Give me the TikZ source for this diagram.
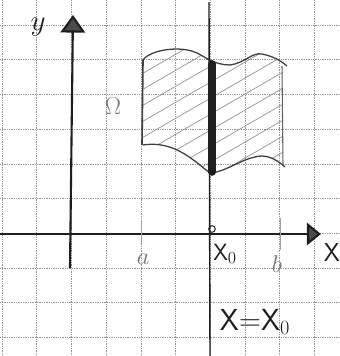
\documentclass[tikz,border=0pt]{standalone}
\definecolor{paper}{RGB}{150, 150, 150}
\definecolor{pencil}{RGB}{30, 30, 30}
\definecolor{faint}{RGB}{120, 120, 120}
\usepackage{amsmath,amssymb}
\usetikzlibrary{arrows.meta,positioning}

\begin{document}
\begin{tikzpicture}[x=0.03cm, y=-0.03cm,
    gridline/.style={paper, line width=0.5pt, densely dotted},
    axis/.style={pencil, line width=1.8pt},
    hand/.style={font=\sffamily\fontsize{22}{24}\selectfont, text=pencil, inner sep=1pt},
    pale/.style={font=\fontsize{22}{24}\selectfont, text=faint, inner sep=1pt}]
        \useasboundingbox (0,0) rectangle (340,356);
        \fill[white] (0,0) rectangle (340,356);

        % Squared paper
        \foreach \i in {0,...,9} {
          \draw[gridline] ({2+34.7*\i},0) -- ({2+34.7*\i},356);
        }
        \foreach \j in {0,...,9} {
          \draw[gridline] (0,{25+34.7*\j}) -- (340,{25+34.7*\j});
        }

        % Axes
        \coordinate (Ybot) at (70, 268);
        \coordinate (Ytop) at (73, 15);
        \coordinate (Xleft) at (0, 234);
        \coordinate (Xright) at (321, 234);
        \draw[axis, -{Triangle[length=15pt, width=21pt, fill=pencil!80]}] (Ybot) -- (Ytop);
        \draw[axis, -{Triangle[length=12pt, width=19pt, fill=pencil!80]}] (Xleft) -- (Xright);

        % Region Omega, hatched
        \begin{scope}
          \clip (143,60) .. controls (150,50) and (180,45) .. (197,53)
                .. controls (205,57) and (215,65) .. (230,65)
                .. controls (245,63) and (252,52) .. (262,54)
                .. controls (272,56) and (280,60) .. (283,66)
                -- (283,166)
                .. controls (275,158) and (265,154) .. (255,157)
                .. controls (240,160) and (225,172) .. (210,173)
                .. controls (195,162) and (175,140) .. (143,145) -- cycle;
          \foreach \k in {0,...,14} {
            \draw[faint!80, line width=0.6pt] (140,{75+16*\k}) -- (290,{75+16*\k-87});
          }
        \end{scope}
        \draw[pencil!85, line width=1.1pt]
              (143,60) .. controls (150,50) and (180,45) .. (197,53)
              .. controls (205,57) and (215,65) .. (230,65)
              .. controls (245,63) and (252,52) .. (262,54)
              .. controls (272,56) and (280,60) .. (287,66);
        \draw[pencil!85, line width=1.1pt]
              (285,167) .. controls (275,158) and (265,154) .. (255,157)
              .. controls (240,160) and (225,172) .. (210,173)
              .. controls (195,162) and (175,140) .. (143,145);
        \draw[pencil!85, line width=1.4pt] (143,60) -- (142,145);
        \draw[pencil!70, line width=0.9pt] (282,66) -- (283,165);

        % Line x = x0
        \coordinate (Ltop) at (209, 2);
        \coordinate (Lbot) at (210, 356);
        \coordinate (Btop) at (212, 64);
        \coordinate (Bbot) at (212, 172);
        \draw[pencil, line width=1.2pt] (Ltop) -- (Lbot);
        \draw[pencil, line width=6.5pt, line cap=round] (Btop) -- (Bbot);
        \node[circle, draw=pencil, line width=0.8pt, inner sep=2pt] (Xo) at (212, 229) {};

        % Ticks a and b
        \coordinate (Atop) at (141, 220);
        \coordinate (Abot) at (141, 243);
        \coordinate (Btick) at (280, 218);
        \coordinate (Btickb) at (280, 250);
        \draw[faint!70, line width=0.8pt] (Atop) -- (Abot);
        \draw[faint!70, line width=0.8pt] (Btick) -- (Btickb);

        % Labels
        \node[font=\fontsize{30}{32}\selectfont, text=pencil] (ylab) at (38, 27) {$y$};
        \node[hand] (xlab) at (332, 253) {X};
        \node[pale] (omega) at (113, 106) {$\Omega$};
        \node[pale] (alab) at (143, 259) {$a$};
        \node[pale] (blab) at (277, 264) {$b$};
        \node[hand, font=\sffamily\fontsize{20}{22}\selectfont] (x0lab) at (225, 254) {X$_0$};
        \node[hand, font=\sffamily\fontsize{26}{28}\selectfont] (eqlab) at (255, 322) {X=X$_0$};
      \end{tikzpicture}
\end{document}
